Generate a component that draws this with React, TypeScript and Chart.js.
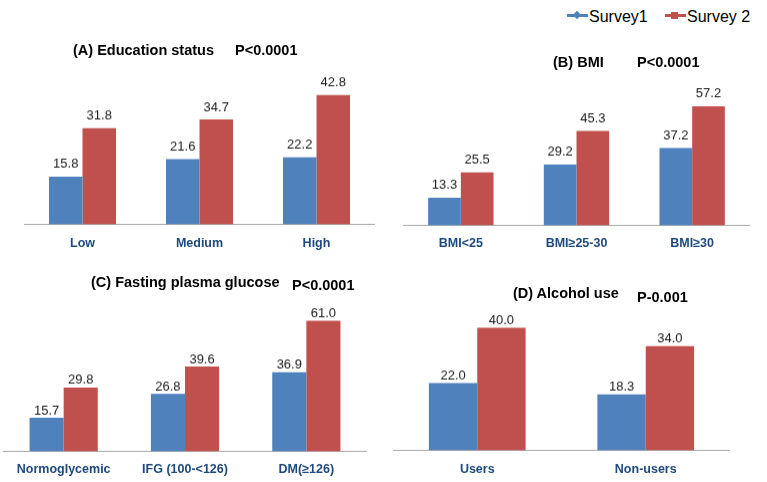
import React, { useEffect, useRef } from 'react';
import { Chart, registerables } from 'chart.js';

Chart.register(...registerables);

const seriesNames = ['Survey1', 'Survey 2'];

const eduCategories = ['Low', 'Medium', 'High'];
const eduSurvey1 = [15.8, 21.6, 22.2];
const eduSurvey2 = [31.8, 34.7, 42.8];

const bmiCategories = ['BMI<25', 'BMI≥25-30', 'BMI≥30'];
const bmiSurvey1 = [13.3, 29.2, 37.2];
const bmiSurvey2 = [25.5, 45.3, 57.2];

const fpgCategories = ['Normoglycemic', 'IFG (100-<126)', 'DM(≥126)'];
const fpgSurvey1 = [15.7, 26.8, 36.9];
const fpgSurvey2 = [29.8, 39.6, 61.0];

const alcCategories = ['Users', 'Non-users'];
const alcSurvey1 = [22.0, 18.3];
const alcSurvey2 = [40.0, 34.0];

const BLUE = '#4F81BD';
const RED = '#C0504D';
const NAVY = '#1F497D';
const AXIS = '#A6A6A6';
const FONT = '"Liberation Sans", Arial, sans-serif';
const PAD_TOP = 25;
const PAD_BOTTOM = 2;
const TICK_SIZE = 12.5;
const TICK_LH = 15;

type PanelCfg = {
  labels: string[];
  s1: number[];
  s2: number[];
  left: number;
  width: number;
  chartTop: number;
  axisY: number;
  yMax: number;
  catPct: number;
  tickPad: number;
  labelGap: number;
};

const valueLabels = {
  id: 'valueLabels',
  afterDatasetsDraw(chart: any, _args: any, opts: any) {
    const ctx = chart.ctx;
    const gap = opts && typeof opts.gap === 'number' ? opts.gap : 6;
    ctx.save();
    ctx.font = `13px ${FONT}`;
    ctx.fillStyle = '#1a1a1a';
    ctx.textAlign = 'center';
    ctx.textBaseline = 'alphabetic';
    chart.data.datasets.forEach((ds: any, i: number) => {
      chart.getDatasetMeta(i).data.forEach((bar: any, j: number) => {
        ctx.fillText(Number(ds.data[j]).toFixed(1), bar.x, bar.y - gap);
      });
    });
    ctx.restore();
  },
};

function Panel({ cfg }: { cfg: PanelCfg }) {
  const ref = useRef<HTMLCanvasElement>(null);
  const axisH = cfg.tickPad + TICK_LH;
  const h = PAD_TOP + (cfg.axisY - cfg.chartTop) + axisH + PAD_BOTTOM;
  useEffect(() => {
    const chart = new Chart(ref.current as HTMLCanvasElement, {
      type: 'bar',
      data: {
        labels: cfg.labels,
        datasets: [
          { label: seriesNames[0], data: cfg.s1, backgroundColor: BLUE, borderWidth: 0 },
          { label: seriesNames[1], data: cfg.s2, backgroundColor: RED, borderWidth: 0 },
        ],
      },
      options: {
        responsive: false,
        animation: false,
        devicePixelRatio: 1,
        layout: { padding: { top: PAD_TOP, bottom: PAD_BOTTOM, left: 0, right: 0 } },
        plugins: {
          legend: { display: false },
          tooltip: { enabled: false },
          valueLabels: { gap: cfg.labelGap },
        },
        datasets: { bar: { barPercentage: 1, categoryPercentage: cfg.catPct } },
        scales: {
          x: {
            grid: { display: false, drawTicks: false },
            border: { display: true, color: AXIS, width: 1 },
            ticks: {
              color: NAVY,
              font: { family: FONT, size: TICK_SIZE, weight: 'bold', lineHeight: TICK_LH / TICK_SIZE },
              padding: cfg.tickPad,
              maxRotation: 0,
              autoSkip: false,
            },
            afterFit: (scale: any) => {
              scale.height = axisH;
              scale.paddingLeft = 0;
              scale.paddingRight = 0;
            },
          },
          y: { display: false, min: 0, max: cfg.yMax },
        },
      } as any,
      plugins: [valueLabels],
    });
    return () => chart.destroy();
  }, []);
  return (
    <canvas
      ref={ref}
      width={cfg.width}
      height={h}
      style={{ position: 'absolute', left: cfg.left, top: cfg.chartTop - PAD_TOP, width: cfg.width, height: h }}
    />
  );
}

const panels: PanelCfg[] = [
  { labels: eduCategories, s1: eduSurvey1, s2: eduSurvey2, left: 24, width: 351, chartTop: 60, axisY: 224, yMax: 54.3, catPct: 0.573, tickPad: 11.5, labelGap: 8.5 },
  { labels: bmiCategories, s1: bmiSurvey1, s2: bmiSurvey2, left: 403, width: 347, chartTop: 80, axisY: 225, yMax: 69.7, catPct: 0.565, tickPad: 10.5, labelGap: 8.5 },
  { labels: fpgCategories, s1: fpgSurvey1, s2: fpgSurvey2, left: 3, width: 364, chartTop: 300, axisY: 451, yMax: 70.6, catPct: 0.562, tickPad: 10.5, labelGap: 3.5 },
  { labels: alcCategories, s1: alcSurvey1, s2: alcSurvey2, left: 393, width: 337, chartTop: 305, axisY: 450, yMax: 47.4, catPct: 0.574, tickPad: 11.5, labelGap: 3.5 },
];

const titles = [
  { text: '(A) Education status', left: 73, cy: 50 },
  { text: 'P<0.0001', left: 235, cy: 50 },
  { text: '(B) BMI', left: 553, cy: 62 },
  { text: 'P<0.0001', left: 637, cy: 62 },
  { text: '(C) Fasting plasma glucose', left: 91, cy: 282 },
  { text: 'P<0.0001', left: 292, cy: 285 },
  { text: '(D) Alcohol use', left: 513, cy: 293 },
  { text: 'P-0.001', left: 637, cy: 297 },
];

function Legend() {
  const text = (s: string, left: number) => (
    <div style={{ position: 'absolute', left, top: 17 - 10, height: 20, lineHeight: '20px', fontFamily: FONT, fontSize: 16, color: '#000', whiteSpace: 'nowrap' }}>{s}</div>
  );
  return (
    <>
      <div style={{ position: 'absolute', left: 567, top: 14, width: 21, height: 3, background: BLUE }} />
      <div style={{ position: 'absolute', left: 574, top: 12, width: 6, height: 6, background: BLUE, transform: 'rotate(45deg)' }} />
      {text(seriesNames[0], 589)}
      <div style={{ position: 'absolute', left: 665, top: 14, width: 21, height: 3, background: RED }} />
      <div style={{ position: 'absolute', left: 671, top: 12, width: 7, height: 7, background: RED }} />
      {text(seriesNames[1], 687)}
    </>
  );
}

export default function App() {
  return (
    <div style={{ position: 'fixed', left: 0, top: 0, width: 767, height: 482, background: '#fff', overflow: 'hidden' }}>
      {panels.map((p, i) => (
        <Panel key={i} cfg={p} />
      ))}
      {titles.map((t, i) => (
        <div
          key={i}
          style={{ position: 'absolute', left: t.left, top: t.cy - 10, height: 20, lineHeight: '20px', fontFamily: FONT, fontSize: 14.5, fontWeight: 'bold', color: '#000', whiteSpace: 'nowrap' }}
        >
          {t.text}
        </div>
      ))}
      <Legend />
    </div>
  );
}
